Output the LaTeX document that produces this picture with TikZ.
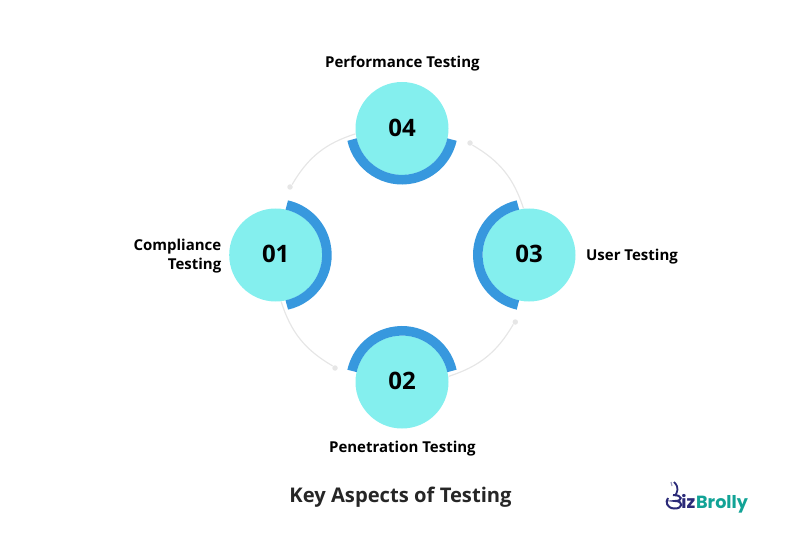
\documentclass[tikz,border=0pt]{standalone}
\usepackage{fontspec}
\setmainfont{Open Sans}
\newfontfamily\logofont{Poppins}
\definecolor{discfill}{HTML}{84EFEE}
\definecolor{ringblue}{HTML}{3798DE}
\definecolor{tracegray}{HTML}{E6E6E6}
\definecolor{logonavy}{HTML}{2B2A78}
\definecolor{logoteal}{HTML}{12A396}
\begin{document}
\begin{tikzpicture}[x=1pt, y=1pt, thick]

    \tikzset{disc/.style={%
      circle,%
      fill=discfill,%
      minimum size=93pt,%
      inner sep=0pt,%
      text depth=2pt,%
      font=\fontsize{24}{28}\selectfont\bfseries}%
    };

    \tikzset{caption/.style={font=\fontsize{15}{19}\selectfont\bfseries, text=black, inner sep=0pt}};
    \tikzset{ringarc/.style={draw=ringblue, line width=9.6pt}};
    \tikzset{trace/.style={draw=tracegray, line width=1.2pt}};
    \tikzset{tracedot/.style={circle, fill=tracegray, minimum size=5.5pt, inner sep=0pt}};
    \tikzset{logotext/.style={anchor=base west, inner sep=0pt, font=\logofont\fontsize{17.6}{22}\selectfont\bfseries}};

    \useasboundingbox (0, 0) rectangle (801, 550);

    %%%%%%%%%
    % discs %
    %%%%%%%%%
    \path (275.7, 295) node [disc] (one) {01};
    \path (402, 168) node [disc] (two) {02};
    \path (529, 295) node [disc] (three) {03};
    \path (402, 421.5) node [disc] (four) {04};

    \path (290, 363) node [tracedot] (dotone) {};
    \path (335, 182) node [tracedot] (dottwo) {};
    \path (515.3, 228) node [tracedot] (dotthree) {};
    \path (470, 407) node [tracedot] (dotfour) {};

    \draw [trace] (dotone) to [bend left=21] (four);
    \draw [trace] (dottwo) to [bend left=21] (one);
    \draw [trace] (dotthree) to [bend left=21] (two);
    \draw [trace] (dotfour) to [bend left=21] (three);

    %%%%%%%%%
    % rings %
    %%%%%%%%%
    \draw [ringarc] (one) ++(-77.5:51.2) arc [start angle=-77.5, end angle=77.5, radius=51.2];
    \draw [ringarc] (two) ++(12.5:51.2) arc [start angle=12.5, end angle=167.5, radius=51.2];
    \draw [ringarc] (three) ++(102.5:51.2) arc [start angle=102.5, end angle=257.5, radius=51.2];
    \draw [ringarc] (four) ++(192.5:51.2) arc [start angle=192.5, end angle=347.5, radius=51.2];

    %%%%%%%%%%%%
    % captions %
    %%%%%%%%%%%%
    \path (402.4, 486.5) node [caption] (perf) {Performance Testing};
    \path (402.4, 101.5) node [caption] (pen) {Penetration Testing};
    \path (585.7, 293.5) node [caption, anchor=west] (user) {User Testing};
    \path (221.7, 293.5) node [caption, anchor=east, align=right] (comp) {Compliance\\Testing};
    \path (400.5, 52.5) node [font=\fontsize{20.2}{24}\selectfont\bfseries, text=black!85] (title) {Key Aspects of Testing};

    %%%%%%%%
    % logo %
    %%%%%%%%
    \path (681, 41.5) node [logotext, text=logonavy] (biz) {iz};
    \path (biz.base east) node [logotext, text=logoteal] (brolly) {Brolly};
    \draw [logonavy, line width=1.8pt] (674, 68) .. controls (680, 62) and (677, 58) .. (675, 54);
    \draw [logonavy, line width=2pt] (673, 55) .. controls (683, 55) and (683, 49) .. (675, 49) .. controls (684, 49) and (683, 41) .. (674, 41.5) .. controls (667, 42) and (665, 48) .. (668, 52);
    \draw [logonavy!50, line width=1.2pt] (671, 68) -- (672, 64);

\end{tikzpicture}
\end{document}
